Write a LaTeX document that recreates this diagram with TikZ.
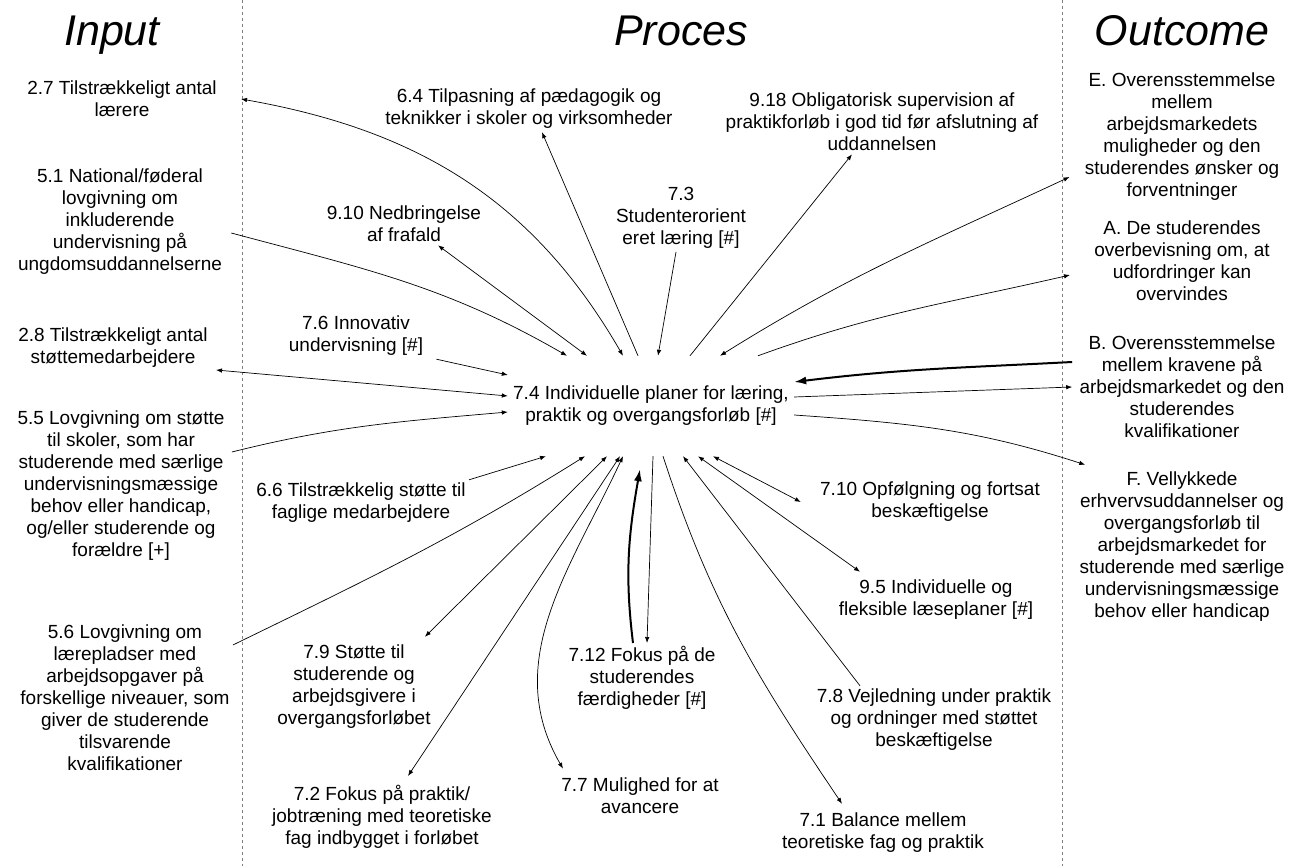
\documentclass[tikz,border=0pt]{standalone}
\usepackage{fontspec}
\setmainfont{Liberation Sans}
\usetikzlibrary{arrows.meta}

\begin{document}
\begin{tikzpicture}[x=1pt,y=1pt,>={Latex[length=6pt,width=4.5pt]},line width=0.7pt,
  box/.style={align=center,inner sep=3pt,font=\fontsize{19}{22}\selectfont},
  head/.style={anchor=base,font=\fontsize{43}{50}\selectfont\itshape},
  strong/.style={line width=2pt,-{Latex[length=12pt,width=8pt]}}]
  \useasboundingbox (0,0) rectangle (1298,-866);
  % ---------------- columns
  \draw[gray,dash pattern=on 3pt off 3pt,line width=0.6pt] (242,0) -- (242,-866);
  \draw[gray,dash pattern=on 3pt off 3pt,line width=0.6pt] (1062,0) -- (1062,-866);
  \node[head] (tInput) at (112,-46) {Input};
  \node[head] (tProces) at (681,-46) {Proces};
  \node[head] (tOutcome) at (1182,-46) {Outcome};
  % ---------------- input
  \node[box] (n27) at (122,-99) {2.7 Tilstrækkeligt antal\\lærere};
  \node[box] (n51) at (120,-222) {5.1 National/føderal\\lovgivning om\\inkluderende\\undervisning på\\ungdomsuddannelserne};
  \node[box] (n28) at (113,-348) {2.8 Tilstrækkeligt antal\\støttemedarbejdere};
  \node[box] (n55) at (121,-486) {5.5 Lovgivning om støtte\\til skoler, som har\\studerende med særlige\\undervisningsmæssige\\behov eller handicap,\\og/eller studerende og\\forældre [+]};
  \node[box] (n56) at (125,-698) {5.6 Lovgivning om\\lærepladser med\\arbejdsopgaver på\\forskellige niveauer, som\\giver de studerende\\tilsvarende\\kvalifikationer};
  % ---------------- proces
  \node[box,inner xsep=5pt,inner ysep=30pt] (n74) at (651,-406) {7.4 Individuelle planer for læring,\\praktik og overgangsforløb [\#]};
  \node[box] (n64) at (529,-109) {6.4 Tilpasning af pædagogik og\\teknikker i skoler og virksomheder};
  \node[box] (n918) at (882,-122) {9.18 Obligatorisk supervision af\\praktikforløb i god tid før afslutning af\\uddannelsen};
  \node[box] (n910) at (404,-224) {9.10 Nedbringelse\\af frafald};
  \node[box] (n73) at (681,-218) {7.3\\Studenterorient\\eret læring [\#]};
  \node[box] (n76) at (356,-336) {7.6 Innovativ\\undervisning [\#]};
  \node[box] (n66) at (361,-503) {6.6 Tilstrækkelig støtte til\\faglige medarbejdere};
  \node[box] (n79) at (354,-687) {7.9 Støtte til\\studerende og\\arbejdsgivere i\\overgangsforløbet};
  \node[box] (n72) at (382,-817) {7.2 Fokus på praktik/\\jobtræning med teoretiske\\fag indbygget i forløbet};
  \node[box] (n712) at (642,-678) {7.12 Fokus på de\\studerendes\\færdigheder [\#]};
  \node[box] (n77) at (640,-796) {7.7 Mulighed for at\\avancere};
  \node[box] (n71) at (883,-833) {7.1 Balance mellem\\teoretiske fag og praktik};
  \node[box] (n710) at (930,-502) {7.10 Opfølgning og fortsat\\beskæftigelse};
  \node[box] (n95) at (936,-600) {9.5 Individuelle og\\fleksible læseplaner [\#]};
  \node[box] (n78) at (934,-720) {7.8 Vejledning under praktik\\og ordninger med støttet\\beskæftigelse};
  % ---------------- outcome
  \node[box] (nE) at (1182,-137) {E. Overensstemmelse\\mellem\\arbejdsmarkedets\\muligheder og den\\studerendes ønsker og\\forventninger};
  \node[box] (nA) at (1182,-261) {A. De studerendes\\overbevisning om, at\\udfordringer kan\\overvindes};
  \node[box] (nB) at (1182,-387) {B. Overensstemmelse\\mellem kravene på\\arbejdsmarkedet og den\\studerendes\\kvalifikationer};
  \node[box] (nF) at (1182,-547) {F. Vellykkede\\erhvervsuddannelser og\\overgangsforløb til\\arbejdsmarkedet for\\studerende med særlige\\undervisningsmæssige\\behov eller handicap};
  % ---------------- links above 7.4
  \draw[<->] ([xshift=21pt]n27.east) to[out=-10,in=120] ([xshift=-28pt]n74.north);
  \draw[->] ([xshift=6pt,yshift=-11pt]n51.east) to[out=-15,in=150] ([xshift=-84pt]n74.north);
  \draw[<->] ([xshift=34pt]n910.south) -- ([xshift=-64pt]n74.north);
  \draw[->] ([xshift=-13pt]n74.north) -- ([xshift=13pt]n64.south);
  \draw[->] ([xshift=-5pt]n73.south) -- ([xshift=7pt]n74.north);
  \draw[->] ([xshift=39pt]n74.north) -- ([xshift=-30pt]n918.south);
  \draw[<->] ([xshift=69pt]n74.north) to[out=32,in=205] ([xshift=-12pt,yshift=-40pt]nE.west);
  \draw[->] ([xshift=107pt]n74.north) to[out=20,in=193] ([xshift=-21pt,yshift=-14pt]nA.west);
  % ---------------- links at the sides
  \draw[<->] ([xshift=5pt,yshift=-22pt]n28.east) -- ([yshift=10pt]n74.west);
  \draw[->] ([xshift=10pt]n76.south east) -- ([yshift=31pt]n74.west);
  \draw[->] ([xshift=4pt,yshift=34pt]n55.east) to[out=14,in=185] ([yshift=-6pt]n74.west);
  \draw[strong] ([xshift=-4pt,yshift=25pt]nB.west) to[out=183,in=7] ([yshift=24pt]n74.east);
  \draw[->] ([yshift=9pt]n74.east) -- ([xshift=-4pt]nB.west);
  \draw[->] ([yshift=-9pt]n74.east) to[out=-4,in=162] ([xshift=9pt,yshift=4pt]nF.north west);
  % ---------------- links below 7.4
  \draw[->] (n66.north east) -- ([xshift=-105pt]n74.south);
  \draw[->] ([yshift=53pt]n56.east) to[out=26,in=-148] ([xshift=-66pt]n74.south);
  \draw[<->] ([xshift=-44pt]n74.south) -- ([xshift=-9pt,yshift=5pt]n79.north east);
  \draw[<->] ([xshift=-31pt]n74.south) -- ([xshift=26pt,yshift=6pt]n72.north);
  \draw[<->] ([xshift=-28pt]n74.south) to[out=245,in=120] ([xshift=-77pt,yshift=6pt]n77.north);
  \draw[strong] ([xshift=-9pt]n712.north) to[out=97,in=-100] ([xshift=-11pt,yshift=-13pt]n74.south);
  \draw[->] ([xshift=2pt]n74.south) -- ([xshift=5pt]n712.north);
  \draw[->] ([xshift=12pt]n74.south) to[out=-72,in=124] ([xshift=-41pt,yshift=6pt]n71.north);
  \draw[->] ([xshift=-74pt]n78.north) -- ([xshift=32pt]n74.south);
  \draw[<->] ([xshift=47pt]n74.south) -- ([xshift=-76pt,yshift=5pt]n95.north);
  \draw[<->] ([xshift=62pt]n74.south) -- ([xshift=-16pt]n710.west);
\end{tikzpicture}
\end{document}
